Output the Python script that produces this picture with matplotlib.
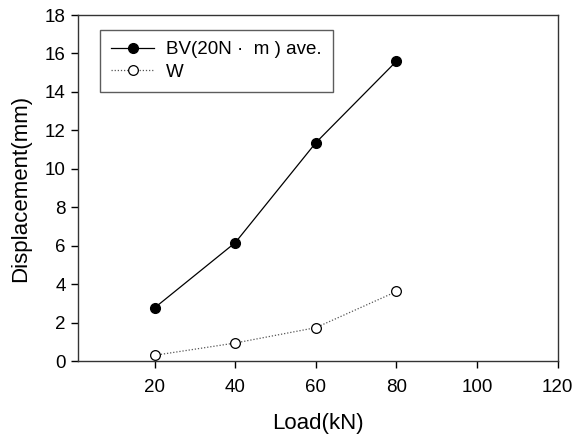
import matplotlib
matplotlib.use("Agg")
import matplotlib.pyplot as plt

load = [20, 40, 60, 80]
bv = [2.77, 6.16, 11.36, 15.6]
w = [0.3, 0.94, 1.74, 3.62]
xticks = [20, 40, 60, 80, 100, 120]
yticks = [0, 2, 4, 6, 8, 10, 12, 14, 16, 18]

plt.rcParams['font.family'] = ['Liberation Sans', 'DejaVu Sans']

fig = plt.figure(figsize=(5.75, 4.34), dpi=100)
ax = fig.add_axes([0.1357, 0.168, 0.8343, 0.7974])

ax.plot(load, bv, color='black', lw=0.9, marker='o', ms=7, mfc='black', mec='black',
        label='BV(20N \u00b7  m ) ave.')
ax.plot(load, w, color='#555555', lw=0.9, ls=(0, (1, 1.5)), marker='o', ms=7,
        mfc='white', mec='black', mew=0.9, label='W')

ax.set_xlim(1, 120)
ax.set_ylim(0, 18)
ax.set_xticks(xticks)
ax.set_yticks(yticks)
ax.tick_params(direction='out', length=5, width=1, labelsize=13.5, colors='black')
ax.tick_params(axis='x', pad=8)
ax.tick_params(axis='y', pad=4)
for s in ax.spines.values():
    s.set_linewidth(1)
    s.set_color('#333333')
ax.set_xlabel('Load(kN)', fontsize=16, labelpad=12)
ax.set_ylabel('Displacement(mm)', fontsize=16, labelpad=10)

leg = ax.legend(loc='upper left', bbox_to_anchor=(0.046, 0.957), fontsize=13.5,
                frameon=True, fancybox=False, edgecolor='#333333', borderpad=0.6,
                handlelength=2.3, handletextpad=0.6, labelspacing=0.3, borderaxespad=0)
leg.get_frame().set_linewidth(1)

fig.savefig('out.png', dpi=100)
